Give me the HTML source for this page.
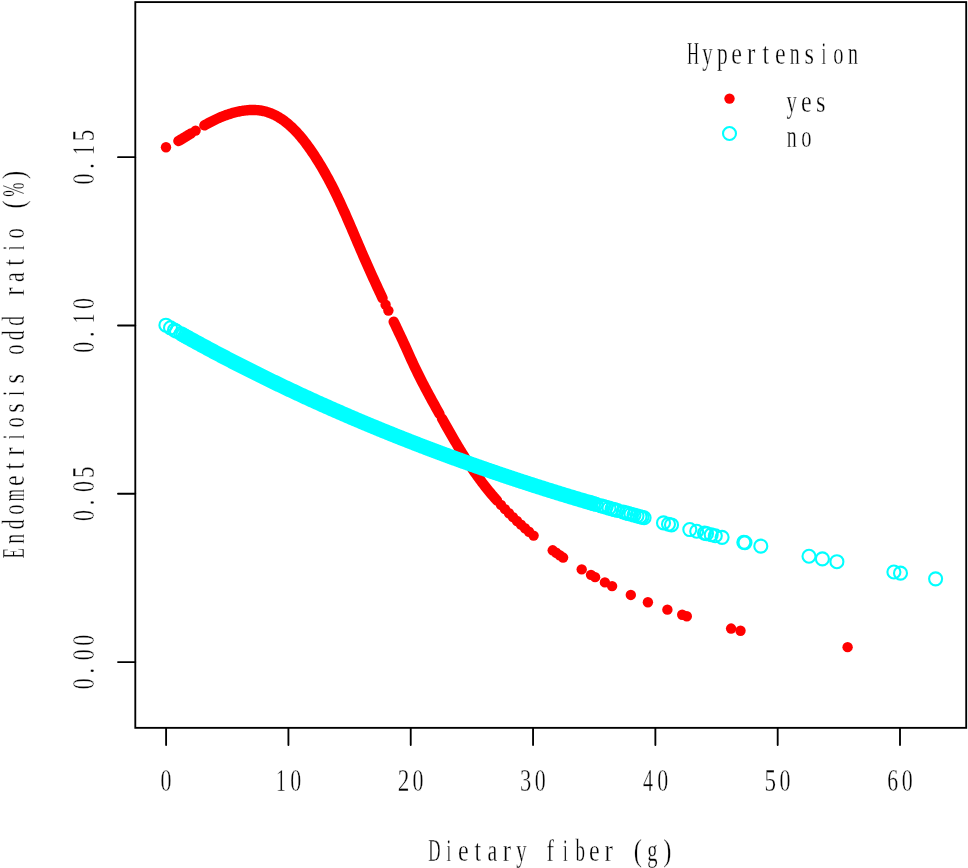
<!DOCTYPE html>
<html><head><meta charset="utf-8"><title>Endometriosis odd ratio vs Dietary fiber</title>
<style>html,body{margin:0;padding:0;background:#fff;}body{width:968px;height:868px;overflow:hidden;font-family:"Liberation Serif",serif;}svg{display:block;}</style>
</head><body>
<svg width="968" height="868" viewBox="0 0 968 868"><rect x="135.3" y="2.1" width="830.90" height="725.75" fill="none" stroke="#000" stroke-width="1.85"/>
<path d="M166.10 727.85V745M288.42 727.85V745M410.73 727.85V745M533.05 727.85V745M655.37 727.85V745M777.69 727.85V745M900.00 727.85V745M135.3 662.05H118M135.3 493.75H118M135.3 325.45H118M135.3 157.15H118" stroke="#000" stroke-width="1.85" stroke-linecap="round" fill="none"/>
<path d="M178.40 141.01 L179.40 140.44 L180.40 139.87 L181.40 139.28 L182.40 138.69 L183.40 138.10 L184.40 137.50 L185.40 136.89 L186.40 136.28 L187.40 135.67 L188.40 135.06 L189.40 134.44 L190.40 133.83 L191.00 133.46M204.40 125.37 L205.40 124.81 L206.40 124.24 L207.40 123.69 L208.40 123.14 L209.40 122.61 L210.40 122.08 L211.40 121.56 L212.40 121.05 L213.40 120.55 L214.40 120.06 L215.40 119.57 L216.40 119.10 L217.40 118.64 L218.40 118.20 L219.40 117.76 L220.40 117.33 L221.40 116.92 L222.40 116.51 L223.40 116.12 L224.40 115.74 L225.40 115.36 L226.40 115.00 L227.40 114.66 L228.40 114.32 L229.40 113.99 L230.40 113.68 L231.40 113.37 L232.40 113.08 L233.40 112.80 L234.40 112.53 L235.40 112.28 L236.40 112.03 L237.40 111.80 L238.40 111.58 L239.40 111.37 L240.40 111.18 L241.40 111.00 L242.40 110.83 L243.40 110.68 L244.40 110.54 L245.40 110.41 L246.40 110.30 L247.40 110.21 L248.40 110.12 L249.40 110.06 L250.40 110.01 L251.40 109.98 L252.40 109.96 L253.40 109.96 L254.40 109.98 L255.40 110.02 L256.40 110.08 L257.40 110.15 L258.40 110.25 L259.40 110.37 L260.40 110.51 L261.40 110.67 L262.40 110.86 L263.40 111.07 L264.40 111.30 L265.40 111.55 L266.40 111.83 L267.40 112.13 L268.40 112.46 L269.40 112.81 L270.40 113.18 L271.40 113.58 L272.40 114.01 L273.40 114.45 L274.40 114.93 L275.40 115.42 L276.40 115.95 L277.40 116.50 L278.40 117.07 L279.40 117.67 L280.40 118.30 L281.40 118.95 L282.40 119.63 L283.40 120.33 L284.40 121.06 L285.40 121.82 L286.40 122.60 L287.40 123.41 L288.40 124.25 L289.40 125.12 L290.40 126.01 L291.40 126.93 L292.40 127.87 L293.40 128.85 L294.40 129.85 L295.40 130.88 L296.40 131.94 L297.40 133.02 L298.40 134.13 L299.40 135.27 L300.40 136.43 L301.40 137.63 L302.40 138.85 L303.40 140.09 L304.40 141.37 L305.40 142.67 L306.40 143.99 L307.40 145.34 L308.40 146.72 L309.40 148.12 L310.40 149.54 L311.40 150.99 L312.40 152.46 L313.40 153.96 L314.40 155.47 L315.40 157.01 L316.40 158.57 L317.40 160.15 L318.40 161.75 L319.40 163.38 L320.40 165.02 L321.40 166.70 L322.40 168.39 L323.40 170.11 L324.40 171.86 L325.40 173.63 L326.40 175.42 L327.40 177.24 L328.40 179.09 L329.40 180.96 L330.40 182.85 L331.40 184.77 L332.40 186.72 L333.40 188.69 L334.40 190.69 L335.40 192.72 L336.40 194.76 L337.40 196.84 L338.40 198.94 L339.40 201.06 L340.40 203.20 L341.40 205.37 L342.40 207.56 L343.40 209.77 L344.40 212.00 L345.40 214.24 L346.40 216.51 L347.40 218.79 L348.40 221.08 L349.40 223.39 L350.40 225.71 L351.40 228.04 L352.40 230.38 L353.40 232.72 L354.40 235.07 L355.40 237.42 L356.40 239.77 L357.40 242.12 L358.40 244.47 L359.40 246.81 L360.40 249.14 L361.40 251.47 L362.40 253.79 L363.40 256.09 L364.40 258.39 L365.40 260.67 L366.40 262.94 L367.40 265.19 L368.40 267.44 L369.40 269.68 L370.40 271.90 L371.40 274.11 L372.40 276.32 L373.40 278.52 L374.40 280.70 L375.40 282.88 L376.40 285.05 L377.40 287.22 L378.40 289.37 L379.40 291.52 L380.40 293.66 L381.40 295.80 L382.40 297.93 L382.50 298.14M393.70 321.66 L394.70 323.75 L395.70 325.84 L396.70 327.94 L397.70 330.04 L398.70 332.15 L399.70 334.26 L400.70 336.39 L401.70 338.53 L402.70 340.68 L403.70 342.84 L404.70 345.02 L405.70 347.22 L406.70 349.44 L407.70 351.66 L408.70 353.88 L409.70 356.10 L410.70 358.31 L411.70 360.50 L412.70 362.67 L413.70 364.82 L414.70 366.93 L415.70 369.02 L416.70 371.08 L417.70 373.12 L418.70 375.14 L419.70 377.13 L420.70 379.11 L421.70 381.07 L422.70 383.01 L423.70 384.93 L424.70 386.84 L425.70 388.74 L426.70 390.63 L427.70 392.50 L428.70 394.36 L429.70 396.22 L430.70 398.06 L431.70 399.90 L432.70 401.72 L433.70 403.55 L434.70 405.36 L435.70 407.17 L436.70 408.98 L437.70 410.78 L438.70 412.58 L439.50 414.01M442.00 418.50 L443.00 420.29 L444.00 422.07 L445.00 423.85 L446.00 425.62 L447.00 427.39 L448.00 429.16 L449.00 430.91 L450.00 432.66 L451.00 434.40 L452.00 436.14 L453.00 437.86 L454.00 439.57 L455.00 441.28 L456.00 442.97 L457.00 444.65 L458.00 446.32 L459.00 447.98 L460.00 449.63 L461.00 451.26 L462.00 452.88 L463.00 454.49 L464.00 456.09 L465.00 457.67 L466.00 459.24 L467.00 460.79 L468.00 462.33 L469.00 463.86 L470.00 465.37 L471.00 466.86 L472.00 468.34 L473.00 469.81 L474.00 471.26 L475.00 472.69 L476.00 474.11 L477.00 475.52 L478.00 476.91 L479.00 478.28 L480.00 479.64 L481.00 480.98 L482.00 482.31 L483.00 483.62 L484.00 484.92 L485.00 486.20 L486.00 487.47 L487.00 488.72 L488.00 489.96 L489.00 491.18 L490.00 492.40 L491.00 493.60 L492.00 494.78 L493.00 495.96 L494.00 497.12 L495.00 498.27 L496.00 499.41 L497.00 500.53" fill="none" stroke="#ff0000" stroke-width="10.4" stroke-linecap="round" stroke-linejoin="round"/>
<g fill="#ff0000"><circle cx="166.00" cy="147.30" r="5.2"/><circle cx="195.60" cy="130.62" r="5.2"/><circle cx="385.60" cy="304.71" r="5.2"/><circle cx="388.40" cy="310.59" r="5.2"/><circle cx="501.00" cy="504.93" r="5.2"/><circle cx="505.00" cy="509.16" r="5.2"/><circle cx="509.00" cy="513.25" r="5.2"/><circle cx="513.00" cy="517.19" r="5.2"/><circle cx="517.00" cy="521.00" r="5.2"/><circle cx="521.00" cy="524.69" r="5.2"/><circle cx="525.00" cy="528.26" r="5.2"/><circle cx="529.00" cy="531.72" r="5.2"/><circle cx="533.60" cy="535.58" r="5.2"/><circle cx="552.70" cy="550.31" r="5.2"/><circle cx="556.20" cy="552.80" r="5.2"/><circle cx="559.70" cy="555.25" r="5.2"/><circle cx="563.10" cy="557.56" r="5.2"/><circle cx="581.70" cy="569.40" r="5.2"/><circle cx="591.00" cy="574.83" r="5.2"/><circle cx="595.10" cy="577.13" r="5.2"/><circle cx="604.90" cy="582.41" r="5.2"/><circle cx="612.10" cy="586.09" r="5.2"/><circle cx="630.80" cy="594.94" r="5.2"/><circle cx="647.90" cy="602.22" r="5.2"/><circle cx="667.40" cy="609.66" r="5.2"/><circle cx="682.20" cy="614.74" r="5.2"/><circle cx="686.80" cy="616.23" r="5.2"/><circle cx="731.10" cy="628.57" r="5.2"/><circle cx="740.50" cy="630.75" r="5.2"/><circle cx="847.60" cy="647.16" r="5.2"/></g>
<path d="M187.00 337.09 L188.00 337.64 L189.00 338.20 L190.00 338.75 L191.00 339.30 L192.00 339.85 L193.00 340.40 L194.00 340.95 L195.00 341.50 L196.00 342.04 L197.00 342.59 L198.00 343.14 L199.00 343.68 L200.00 344.22 L201.00 344.77 L202.00 345.31 L203.00 345.85 L204.00 346.39 L205.00 346.93 L206.00 347.47 L207.00 348.00 L208.00 348.54 L209.00 349.08 L210.00 349.61 L211.00 350.15 L212.00 350.68 L213.00 351.21 L214.00 351.74 L215.00 352.28 L216.00 352.81 L217.00 353.34 L218.00 353.86 L219.00 354.39 L220.00 354.92 L221.00 355.44 L222.00 355.97 L223.00 356.49 L224.00 357.02 L225.00 357.54 L226.00 358.06 L227.00 358.58 L228.00 359.10 L229.00 359.62 L230.00 360.14 L231.00 360.66 L232.00 361.18 L233.00 361.69 L234.00 362.21 L235.00 362.72 L236.00 363.23 L237.00 363.75 L238.00 364.26 L239.00 364.77 L240.00 365.28 L241.00 365.79 L242.00 366.30 L243.00 366.81 L244.00 367.32 L245.00 367.82 L246.00 368.33 L247.00 368.83 L248.00 369.34 L249.00 369.84 L250.00 370.34 L251.00 370.84 L252.00 371.35 L253.00 371.85 L254.00 372.34 L255.00 372.84 L256.00 373.34 L257.00 373.84 L258.00 374.33 L259.00 374.83 L260.00 375.33 L261.00 375.82 L262.00 376.31 L263.00 376.80 L264.00 377.30 L265.00 377.79 L266.00 378.28 L267.00 378.77 L268.00 379.26 L269.00 379.74 L270.00 380.23 L271.00 380.72 L272.00 381.20 L273.00 381.69 L274.00 382.17 L275.00 382.65 L276.00 383.14 L277.00 383.62 L278.00 384.10 L279.00 384.58 L280.00 385.06 L281.00 385.54 L282.00 386.02 L283.00 386.49 L284.00 386.97 L285.00 387.45 L286.00 387.92 L287.00 388.39 L288.00 388.87 L289.00 389.34 L290.00 389.81 L291.00 390.28 L292.00 390.76 L293.00 391.22 L294.00 391.69 L295.00 392.16 L296.00 392.63 L297.00 393.10 L298.00 393.56 L299.00 394.03 L300.00 394.49 L301.00 394.96 L302.00 395.42 L303.00 395.88 L304.00 396.35 L305.00 396.81 L306.00 397.27 L307.00 397.73 L308.00 398.19 L309.00 398.64 L310.00 399.10 L311.00 399.56 L312.00 400.01 L313.00 400.47 L314.00 400.92 L315.00 401.38 L316.00 401.83 L317.00 402.28 L318.00 402.74 L319.00 403.19 L320.00 403.64 L321.00 404.09 L322.00 404.54 L323.00 404.98 L324.00 405.43 L325.00 405.88 L326.00 406.33 L327.00 406.77 L328.00 407.22 L329.00 407.66 L330.00 408.10 L331.00 408.55 L332.00 408.99 L333.00 409.43 L334.00 409.87 L335.00 410.31 L336.00 410.75 L337.00 411.19 L338.00 411.63 L339.00 412.06 L340.00 412.50 L341.00 412.94 L342.00 413.37 L343.00 413.81 L344.00 414.24 L345.00 414.67 L346.00 415.11 L347.00 415.54 L348.00 415.97 L349.00 416.40 L350.00 416.83 L351.00 417.26 L352.00 417.69 L353.00 418.11 L354.00 418.54 L355.00 418.97 L356.00 419.39 L357.00 419.82 L358.00 420.24 L359.00 420.67 L360.00 421.09 L361.00 421.51 L362.00 421.93 L363.00 422.36 L364.00 422.78 L365.00 423.20 L366.00 423.62 L367.00 424.03 L368.00 424.45 L369.00 424.87 L370.00 425.29 L371.00 425.70 L372.00 426.12 L373.00 426.53 L374.00 426.95 L375.00 427.36 L376.00 427.77 L377.00 428.18 L378.00 428.59 L379.00 429.01 L380.00 429.42 L381.00 429.82 L382.00 430.23 L383.00 430.64 L384.00 431.05 L385.00 431.46 L386.00 431.86 L387.00 432.27 L388.00 432.67 L389.00 433.08 L390.00 433.48 L391.00 433.88 L392.00 434.29 L393.00 434.69 L394.00 435.09 L395.00 435.49 L396.00 435.89 L397.00 436.29 L398.00 436.69 L399.00 437.09 L400.00 437.48 L401.00 437.88 L402.00 438.28 L403.00 438.67 L404.00 439.07 L405.00 439.46 L406.00 439.86 L407.00 440.25 L408.00 440.64 L409.00 441.03 L410.00 441.42 L411.00 441.81 L412.00 442.20 L413.00 442.59 L414.00 442.98 L415.00 443.37 L416.00 443.76 L417.00 444.15 L418.00 444.53 L419.00 444.92 L420.00 445.30 L421.00 445.69 L422.00 446.07 L423.00 446.45 L424.00 446.84 L425.00 447.22 L426.00 447.60 L427.00 447.98 L428.00 448.36 L429.00 448.74 L430.00 449.12 L431.00 449.50 L432.00 449.88 L433.00 450.25 L434.00 450.63 L435.00 451.01 L436.00 451.38 L437.00 451.76 L438.00 452.13 L439.00 452.51 L440.00 452.88 L441.00 453.25 L442.00 453.62 L443.00 453.99 L444.00 454.37 L445.00 454.74 L446.00 455.11 L447.00 455.47 L448.00 455.84 L449.00 456.21 L450.00 456.58 L451.00 456.94 L452.00 457.31 L453.00 457.68 L454.00 458.04 L455.00 458.41 L456.00 458.77 L457.00 459.13 L458.00 459.50 L459.00 459.86 L460.00 460.22 L461.00 460.58 L462.00 460.94 L463.00 461.30 L464.00 461.66 L465.00 462.02 L466.00 462.38 L467.00 462.73 L468.00 463.09 L469.00 463.45 L470.00 463.80 L471.00 464.16 L472.00 464.51 L473.00 464.87 L474.00 465.22 L475.00 465.57 L476.00 465.93 L477.00 466.28 L478.00 466.63 L479.00 466.98 L480.00 467.33 L481.00 467.68 L482.00 468.03 L483.00 468.38 L484.00 468.73 L485.00 469.07 L486.00 469.42 L487.00 469.77 L488.00 470.11 L489.00 470.46 L490.00 470.80 L491.00 471.15 L492.00 471.49 L493.00 471.83 L494.00 472.18 L495.00 472.52 L496.00 472.86 L497.00 473.20 L498.00 473.54 L499.00 473.88 L500.00 474.22 L501.00 474.56 L502.00 474.90 L503.00 475.23 L504.00 475.57 L505.00 475.91 L506.00 476.24 L507.00 476.58 L508.00 476.91 L509.00 477.25 L510.00 477.58 L511.00 477.92 L512.00 478.25 L513.00 478.58 L514.00 478.91 L515.00 479.24 L516.00 479.57 L517.00 479.90 L518.00 480.23 L519.00 480.56 L520.00 480.89 L521.00 481.22 L522.00 481.55 L523.00 481.87 L524.00 482.20 L525.00 482.53 L526.00 482.85 L527.00 483.18 L528.00 483.50 L529.00 483.83 L530.00 484.15 L531.00 484.47 L532.00 484.79 L533.00 485.12 L534.00 485.44 L535.00 485.76 L536.00 486.08 L537.00 486.40 L538.00 486.72 L539.00 487.04 L540.00 487.35 L541.00 487.67 L542.00 487.99 L543.00 488.30 L544.00 488.62 L545.00 488.94 L546.00 489.25 L547.00 489.57 L548.00 489.88 L549.00 490.19 L550.00 490.51 L551.00 490.82 L552.00 491.13 L553.00 491.44 L554.00 491.75 L555.00 492.06 L556.00 492.37 L557.00 492.68 L558.00 492.99 L559.00 493.30 L560.00 493.61 L561.00 493.92 L562.00 494.22 L563.00 494.53 L564.00 494.84 L565.00 495.14 L566.00 495.45 L567.00 495.75 L568.00 496.05 L569.00 496.36 L570.00 496.66 L571.00 496.96 L572.00 497.27 L573.00 497.57 L574.00 497.87 L575.00 498.17 L576.00 498.47 L577.00 498.77 L578.00 499.07 L579.00 499.37 L580.00 499.66 L581.00 499.96 L582.00 500.26 L583.00 500.56 L584.00 500.85 L585.00 501.15 L586.00 501.44 L587.00 501.74 L588.00 502.03 L589.00 502.33 L590.00 502.62" fill="none" stroke="#00ffff" stroke-width="15.1" stroke-linecap="round" stroke-linejoin="round"/>
<g fill="none" stroke="#00ffff" stroke-width="2.1"><circle cx="165.90" cy="325.19" r="6.5"/><circle cx="170.50" cy="327.82" r="6.5"/><circle cx="174.50" cy="330.09" r="6.5"/><circle cx="176.50" cy="331.22" r="6.5"/><circle cx="181.00" cy="333.75" r="6.5"/><circle cx="183.00" cy="334.86" r="6.5"/><circle cx="185.00" cy="335.98" r="6.5"/><circle cx="591.00" cy="502.91" r="6.5"/><circle cx="593.50" cy="503.64" r="6.5"/><circle cx="596.00" cy="504.37" r="6.5"/><circle cx="601.00" cy="505.81" r="6.5"/><circle cx="603.50" cy="506.53" r="6.5"/><circle cx="606.00" cy="507.25" r="6.5"/><circle cx="609.00" cy="508.10" r="6.5"/><circle cx="612.00" cy="508.95" r="6.5"/><circle cx="614.50" cy="509.65" r="6.5"/><circle cx="617.50" cy="510.50" r="6.5"/><circle cx="623.00" cy="512.03" r="6.5"/><circle cx="626.00" cy="512.86" r="6.5"/><circle cx="628.50" cy="513.55" r="6.5"/><circle cx="631.00" cy="514.24" r="6.5"/><circle cx="634.00" cy="515.05" r="6.5"/><circle cx="637.00" cy="515.87" r="6.5"/><circle cx="640.00" cy="516.68" r="6.5"/><circle cx="642.00" cy="517.22" r="6.5"/><circle cx="644.10" cy="517.78" r="6.5"/><circle cx="663.50" cy="522.90" r="6.5"/><circle cx="668.50" cy="524.19" r="6.5"/><circle cx="671.50" cy="524.96" r="6.5"/><circle cx="689.80" cy="529.56" r="6.5"/><circle cx="696.70" cy="531.27" r="6.5"/><circle cx="704.50" cy="533.16" r="6.5"/><circle cx="706.50" cy="533.65" r="6.5"/><circle cx="711.20" cy="534.77" r="6.5"/><circle cx="715.30" cy="535.75" r="6.5"/><circle cx="722.10" cy="537.35" r="6.5"/><circle cx="743.80" cy="542.35" r="6.5"/><circle cx="745.00" cy="542.62" r="6.5"/><circle cx="760.80" cy="546.13" r="6.5"/><circle cx="809.00" cy="556.24" r="6.5"/><circle cx="822.40" cy="558.90" r="6.5"/><circle cx="836.90" cy="561.71" r="6.5"/><circle cx="893.90" cy="572.02" r="6.5"/><circle cx="900.50" cy="573.14" r="6.5"/><circle cx="935.60" cy="578.86" r="6.5"/></g>
<circle cx="729.5" cy="98.6" r="5.2" fill="#ff0000"/>
<circle cx="729.5" cy="133.5" r="6.5" fill="none" stroke="#00ffff" stroke-width="2.1"/>
<g style="will-change:transform" font-family="Liberation Serif" font-size="30.8" fill="#000" stroke="#fff" stroke-width="0.3"><text vector-effect="non-scaling-stroke" transform="translate(686.97 64.00) scale(0.543 1)">H</text><text vector-effect="non-scaling-stroke" transform="translate(702.30 64.00) scale(0.671 1)">y</text><text vector-effect="non-scaling-stroke" transform="translate(716.95 64.00) scale(0.701 1)">p</text><text vector-effect="non-scaling-stroke" transform="translate(731.26 64.00) scale(0.781 1)">e</text><text vector-effect="non-scaling-stroke" transform="translate(746.90 64.00) scale(0.811 1)">r</text><text vector-effect="non-scaling-stroke" transform="translate(762.42 64.00) scale(0.768 1)">t</text><text vector-effect="non-scaling-stroke" transform="translate(774.91 64.00) scale(0.781 1)">e</text><text vector-effect="non-scaling-stroke" transform="translate(789.79 64.00) scale(0.647 1)">n</text><text vector-effect="non-scaling-stroke" transform="translate(804.60 64.00) scale(0.791 1)">s</text><text vector-effect="non-scaling-stroke" transform="translate(821.60 64.00) scale(0.546 1)">i</text><text vector-effect="non-scaling-stroke" transform="translate(833.37 64.00) scale(0.666 1)">o</text><text vector-effect="non-scaling-stroke" transform="translate(847.99 64.00) scale(0.647 1)">n</text><text vector-effect="non-scaling-stroke" transform="translate(786.55 111.70) scale(0.671 1)">y</text><text vector-effect="non-scaling-stroke" transform="translate(800.96 111.70) scale(0.781 1)">e</text><text vector-effect="non-scaling-stroke" transform="translate(816.10 111.70) scale(0.791 1)">s</text><text vector-effect="non-scaling-stroke" transform="translate(786.74 146.60) scale(0.647 1)">n</text><text vector-effect="non-scaling-stroke" transform="translate(801.22 146.60) scale(0.666 1)">o</text><text vector-effect="non-scaling-stroke" transform="translate(160.61 791.00) scale(0.712 1)">0</text><text vector-effect="non-scaling-stroke" transform="translate(275.89 791.00) scale(0.646 1)">1</text><text vector-effect="non-scaling-stroke" transform="translate(290.21 791.00) scale(0.712 1)">0</text><text vector-effect="non-scaling-stroke" transform="translate(397.79 791.00) scale(0.753 1)">2</text><text vector-effect="non-scaling-stroke" transform="translate(412.52 791.00) scale(0.712 1)">0</text><text vector-effect="non-scaling-stroke" transform="translate(520.05 791.00) scale(0.731 1)">3</text><text vector-effect="non-scaling-stroke" transform="translate(534.84 791.00) scale(0.712 1)">0</text><text vector-effect="non-scaling-stroke" transform="translate(643.05 791.00) scale(0.650 1)">4</text><text vector-effect="non-scaling-stroke" transform="translate(657.16 791.00) scale(0.712 1)">0</text><text vector-effect="non-scaling-stroke" transform="translate(764.42 791.00) scale(0.750 1)">5</text><text vector-effect="non-scaling-stroke" transform="translate(779.47 791.00) scale(0.712 1)">0</text><text vector-effect="non-scaling-stroke" transform="translate(887.14 791.00) scale(0.707 1)">6</text><text vector-effect="non-scaling-stroke" transform="translate(901.79 791.00) scale(0.712 1)">0</text><text vector-effect="non-scaling-stroke" transform="translate(428.26 860.60) scale(0.552 1)">D</text><text vector-effect="non-scaling-stroke" transform="translate(446.50 860.60) scale(0.546 1)">i</text><text vector-effect="non-scaling-stroke" transform="translate(458.01 860.60) scale(0.781 1)">e</text><text vector-effect="non-scaling-stroke" transform="translate(474.62 860.60) scale(0.768 1)">t</text><text vector-effect="non-scaling-stroke" transform="translate(487.38 860.60) scale(0.715 1)">a</text><text vector-effect="non-scaling-stroke" transform="translate(502.75 860.60) scale(0.811 1)">r</text><text vector-effect="non-scaling-stroke" transform="translate(516.35 860.60) scale(0.671 1)">y</text><text vector-effect="non-scaling-stroke" transform="translate(546.61 860.60) scale(0.730 1)">f</text><text vector-effect="non-scaling-stroke" transform="translate(562.90 860.60) scale(0.546 1)">i</text><text vector-effect="non-scaling-stroke" transform="translate(575.40 860.60) scale(0.619 1)">b</text><text vector-effect="non-scaling-stroke" transform="translate(588.96 860.60) scale(0.781 1)">e</text><text vector-effect="non-scaling-stroke" transform="translate(604.60 860.60) scale(0.811 1)">r</text><text vector-effect="non-scaling-stroke" transform="translate(633.77 860.60) scale(0.796 1)">(</text><text vector-effect="non-scaling-stroke" transform="translate(647.17 860.60) scale(0.667 1)">g</text><text vector-effect="non-scaling-stroke" transform="translate(663.16 860.60) scale(0.796 1)">)</text><g transform="rotate(-90)"><text vector-effect="non-scaling-stroke" transform="translate(-689.36 93.80) scale(0.712 1)">0</text><text vector-effect="non-scaling-stroke" transform="translate(-673.58 93.80) scale(0.714 1)">.</text><text vector-effect="non-scaling-stroke" transform="translate(-660.26 93.80) scale(0.712 1)">0</text><text vector-effect="non-scaling-stroke" transform="translate(-645.71 93.80) scale(0.712 1)">0</text><text vector-effect="non-scaling-stroke" transform="translate(-521.06 93.80) scale(0.712 1)">0</text><text vector-effect="non-scaling-stroke" transform="translate(-505.28 93.80) scale(0.714 1)">.</text><text vector-effect="non-scaling-stroke" transform="translate(-491.96 93.80) scale(0.712 1)">0</text><text vector-effect="non-scaling-stroke" transform="translate(-477.92 93.80) scale(0.750 1)">5</text><text vector-effect="non-scaling-stroke" transform="translate(-352.76 93.80) scale(0.712 1)">0</text><text vector-effect="non-scaling-stroke" transform="translate(-336.98 93.80) scale(0.714 1)">.</text><text vector-effect="non-scaling-stroke" transform="translate(-323.42 93.80) scale(0.646 1)">1</text><text vector-effect="non-scaling-stroke" transform="translate(-309.11 93.80) scale(0.712 1)">0</text><text vector-effect="non-scaling-stroke" transform="translate(-184.46 93.80) scale(0.712 1)">0</text><text vector-effect="non-scaling-stroke" transform="translate(-168.68 93.80) scale(0.714 1)">.</text><text vector-effect="non-scaling-stroke" transform="translate(-155.12 93.80) scale(0.646 1)">1</text><text vector-effect="non-scaling-stroke" transform="translate(-141.32 93.80) scale(0.750 1)">5</text><text vector-effect="non-scaling-stroke" transform="translate(-558.39 23.80) scale(0.555 1)">E</text><text vector-effect="non-scaling-stroke" transform="translate(-543.86 23.80) scale(0.647 1)">n</text><text vector-effect="non-scaling-stroke" transform="translate(-529.35 23.80) scale(0.633 1)">d</text><text vector-effect="non-scaling-stroke" transform="translate(-514.83 23.80) scale(0.666 1)">o</text><text vector-effect="non-scaling-stroke" transform="translate(-501.23 23.80) scale(0.504 1)">m</text><text vector-effect="non-scaling-stroke" transform="translate(-485.99 23.80) scale(0.781 1)">e</text><text vector-effect="non-scaling-stroke" transform="translate(-469.38 23.80) scale(0.768 1)">t</text><text vector-effect="non-scaling-stroke" transform="translate(-455.80 23.80) scale(0.811 1)">r</text><text vector-effect="non-scaling-stroke" transform="translate(-439.30 23.80) scale(0.546 1)">i</text><text vector-effect="non-scaling-stroke" transform="translate(-427.53 23.80) scale(0.666 1)">o</text><text vector-effect="non-scaling-stroke" transform="translate(-412.65 23.80) scale(0.791 1)">s</text><text vector-effect="non-scaling-stroke" transform="translate(-395.65 23.80) scale(0.546 1)">i</text><text vector-effect="non-scaling-stroke" transform="translate(-383.55 23.80) scale(0.791 1)">s</text><text vector-effect="non-scaling-stroke" transform="translate(-354.78 23.80) scale(0.666 1)">o</text><text vector-effect="non-scaling-stroke" transform="translate(-340.20 23.80) scale(0.633 1)">d</text><text vector-effect="non-scaling-stroke" transform="translate(-325.65 23.80) scale(0.633 1)">d</text><text vector-effect="non-scaling-stroke" transform="translate(-295.75 23.80) scale(0.811 1)">r</text><text vector-effect="non-scaling-stroke" transform="translate(-282.02 23.80) scale(0.715 1)">a</text><text vector-effect="non-scaling-stroke" transform="translate(-265.68 23.80) scale(0.768 1)">t</text><text vector-effect="non-scaling-stroke" transform="translate(-250.15 23.80) scale(0.546 1)">i</text><text vector-effect="non-scaling-stroke" transform="translate(-238.38 23.80) scale(0.666 1)">o</text><text vector-effect="non-scaling-stroke" transform="translate(-208.38 23.80) scale(0.796 1)">(</text><text vector-effect="non-scaling-stroke" transform="translate(-196.68 23.80) scale(0.552 1)">%</text><text vector-effect="non-scaling-stroke" transform="translate(-178.99 23.80) scale(0.796 1)">)</text></g></g></svg>
</body></html>
